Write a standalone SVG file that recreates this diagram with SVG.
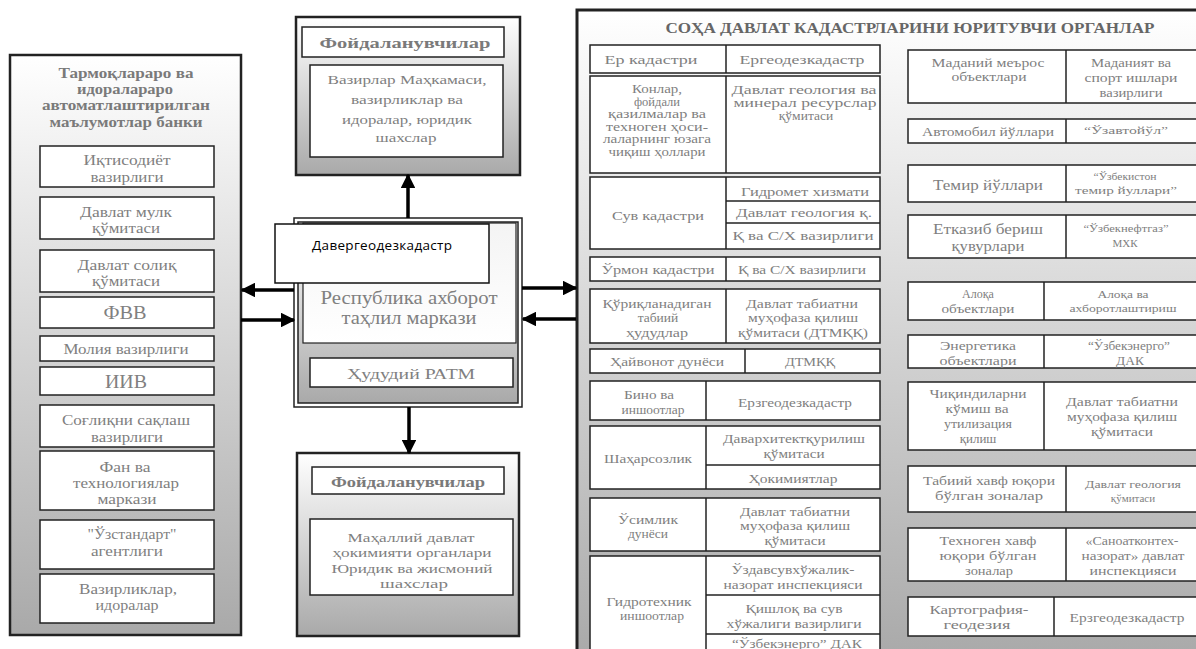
<svg xmlns="http://www.w3.org/2000/svg" width="1196" height="649" viewBox="0 0 1196 649">
<defs>
<linearGradient id="gPanel" x1="0" y1="0" x2="0" y2="1"><stop offset="0" stop-color="#ffffff"/><stop offset="1" stop-color="#a9a9a9"/></linearGradient>
<linearGradient id="gInner" x1="0" y1="0" x2="0" y2="1"><stop offset="0" stop-color="#f4f4f4"/><stop offset="1" stop-color="#ffffff"/></linearGradient>
<marker id="ah" viewBox="0 0 10 10" refX="9" refY="5" markerWidth="4.2" markerHeight="4.2" orient="auto" markerUnits="strokeWidth"><path d="M0,0 L10,5 L0,10 z" fill="#000"/></marker>
</defs>
<style>
text{font-family:"Liberation Serif","DejaVu Serif","Times New Roman",serif;fill:#808080;text-anchor:middle;dominant-baseline:central}
.b{font-weight:bold;fill:#7a7a7a}
.box{fill:#fff;stroke:#222;stroke-width:1.5}
.ln{stroke:#222;stroke-width:1.5}
.pan{stroke:#222;stroke-width:2.5}
.k{font-size:11.5px}.s12{font-size:13px}.s13{font-size:13.5px}.s14{font-size:15px}.s15{font-size:15.5px}.s17{font-size:18px}.s10{font-size:11px}.s11{font-size:12px}
.cn{stroke:#000;stroke-width:3.5;fill:none;marker-end:url(#ah)}
</style>
<rect width="1196" height="649" fill="#fff"/>

<g id="left-panel">
<rect class="pan" x="10" y="55" width="231" height="580" fill="url(#gPanel)"/>
<text class="b s14" x="126" y="73" textLength="135" lengthAdjust="spacingAndGlyphs">Тармоқлараро ва</text>
<text class="b s14" x="125" y="89" textLength="96" lengthAdjust="spacingAndGlyphs">идоралараро</text>
<text class="b s14" x="126" y="105" textLength="168" lengthAdjust="spacingAndGlyphs">автоматлаштирилган</text>
<text class="b s14" x="126" y="122" textLength="153" lengthAdjust="spacingAndGlyphs">маълумотлар банки</text>
</g>
<g id="n-iqtisod"><rect class="box" x="40" y="146" width="174" height="41"/><text class="s14" x="127" y="160" textLength="87" lengthAdjust="spacingAndGlyphs">Иқтисодиёт</text><text class="s14" x="127" y="177" textLength="73" lengthAdjust="spacingAndGlyphs">вазирлиги</text></g>
<g id="n-mulk"><rect class="box" x="40" y="197" width="174" height="42"/><text class="s14" x="126" y="212" textLength="92" lengthAdjust="spacingAndGlyphs">Давлат мулк</text><text class="s14" x="126" y="228" textLength="68" lengthAdjust="spacingAndGlyphs">қўмитаси</text></g>
<g id="n-soliq"><rect class="box" x="40" y="250" width="174" height="42"/><text class="s14" x="127" y="265" textLength="99" lengthAdjust="spacingAndGlyphs">Давлат солиқ</text><text class="s14" x="126" y="281" textLength="68" lengthAdjust="spacingAndGlyphs">қўмитаси</text></g>
<g id="n-fvv"><rect class="box" x="40" y="297" width="174" height="31"/><text class="s17" x="125" y="313" textLength="43" lengthAdjust="spacingAndGlyphs">ФВВ</text></g>
<g id="n-moliya"><rect class="box" x="40" y="336" width="174" height="25"/><text class="s14" x="126" y="349" textLength="125" lengthAdjust="spacingAndGlyphs">Молия вазирлиги</text></g>
<g id="n-iiv"><rect class="box" x="40" y="367" width="174" height="28"/><text class="s17" x="126" y="382" textLength="42" lengthAdjust="spacingAndGlyphs">ИИВ</text></g>
<g id="n-sogliq"><rect class="box" x="40" y="405" width="174" height="42"/><text class="s14" x="126" y="420" textLength="128" lengthAdjust="spacingAndGlyphs">Соғлиқни сақлаш</text><text class="s14" x="127" y="437" textLength="72" lengthAdjust="spacingAndGlyphs">вазирлиги</text></g>
<g id="n-fan"><rect class="box" x="40" y="451" width="174" height="59"/><text class="s14" x="125" y="467" textLength="51" lengthAdjust="spacingAndGlyphs">Фан ва</text><text class="s14" x="126" y="483" textLength="106" lengthAdjust="spacingAndGlyphs">технологиялар</text><text class="s14" x="127" y="499" textLength="59" lengthAdjust="spacingAndGlyphs">маркази</text></g>
<g id="n-uzst"><rect class="box" x="40" y="520" width="174" height="49"/><text class="s14" x="132" y="534" textLength="89" lengthAdjust="spacingAndGlyphs">"Ўзстандарт"</text><text class="s14" x="127" y="551" textLength="72" lengthAdjust="spacingAndGlyphs">агентлиги</text></g>
<g id="n-vazir"><rect class="box" x="40" y="574" width="174" height="49"/><text class="s14" x="128" y="589" textLength="98" lengthAdjust="spacingAndGlyphs">Вазирликлар,</text><text class="s14" x="127" y="605" textLength="63" lengthAdjust="spacingAndGlyphs">идоралар</text></g>

<g id="top-users">
<rect class="pan" x="296" y="17" width="224" height="158" fill="url(#gPanel)"/>
<rect class="box" x="302" y="27" width="202" height="30"/>
<text class="b s15" x="405" y="42" textLength="171" lengthAdjust="spacingAndGlyphs">Фойдаланувчилар</text>
<rect class="box" x="310" y="65" width="193" height="92"/>
<text class="s13" x="407" y="79" textLength="159" lengthAdjust="spacingAndGlyphs">Вазирлар Маҳкамаси,</text>
<text class="s13" x="407" y="99" textLength="112" lengthAdjust="spacingAndGlyphs">вазирликлар ва</text>
<text class="s13" x="407" y="119" textLength="130" lengthAdjust="spacingAndGlyphs">идоралар, юридик</text>
<text class="s13" x="406" y="137" textLength="61" lengthAdjust="spacingAndGlyphs">шахслар</text>
</g>

<g id="center">
<rect x="294" y="218" width="228" height="189" fill="#fff" stroke="#222" stroke-width="1.5"/>
<rect x="298" y="222" width="220" height="181" fill="url(#gPanel)" stroke="#222" stroke-width="1.5"/>
<rect x="303" y="223" width="213" height="120" fill="url(#gInner)" stroke="#222" stroke-width="1.2"/>
<text class="s17" x="409" y="298" textLength="177" lengthAdjust="spacingAndGlyphs">Республика ахборот</text>
<text class="s17" x="409" y="318" textLength="135" lengthAdjust="spacingAndGlyphs">таҳлил маркази</text>
<rect class="box" x="310" y="358" width="203" height="29"/>
<text class="s15" x="411" y="373" textLength="128" lengthAdjust="spacingAndGlyphs">Ҳудудий РАТМ</text>
</g>
<g id="davergeo">
<rect x="275" y="224" width="214" height="59" fill="#fff" stroke="#111" stroke-width="1.5"/>
<text x="382" y="245" textLength="140" lengthAdjust="spacing" style="font-family:'Open Sans','Liberation Sans',sans-serif;font-size:13.5px;fill:#000">Давергеодезкадастр</text>
</g>

<g id="bottom-users">
<rect class="pan" x="297" y="453" width="222" height="183" fill="url(#gPanel)"/>
<rect class="box" x="312" y="467" width="192" height="27"/>
<text class="b s15" x="408" y="481" textLength="154" lengthAdjust="spacingAndGlyphs">Фойдаланувчилар</text>
<rect class="box" x="310" y="519" width="203" height="76"/>
<text class="s13" x="411" y="537" textLength="127" lengthAdjust="spacingAndGlyphs">Маҳаллий давлат</text>
<text class="s13" x="412" y="552" textLength="159" lengthAdjust="spacingAndGlyphs">ҳокимияти органлари</text>
<text class="s13" x="412" y="568" textLength="161" lengthAdjust="spacingAndGlyphs">Юридик ва жисмоний</text>
<text class="s13" x="414" y="583" textLength="68" lengthAdjust="spacingAndGlyphs">шахслар</text>
</g>

<g id="right-panel">
<rect x="577" y="10" width="625" height="650" fill="url(#gPanel)" stroke="#222" stroke-width="3"/>
<text class="b s15" x="910" y="27" textLength="489" lengthAdjust="spacingAndGlyphs" style="fill:#666">СОҲА ДАВЛАТ КАДАСТРЛАРИНИ ЮРИТУВЧИ ОРГАНЛАР</text>
</g>

<g id="r-er"><rect class="box" x="590" y="45" width="290" height="28"/><line class="ln" x1="726" y1="45" x2="726" y2="73"/><text class="s13" x="651" y="59" textLength="93" lengthAdjust="spacingAndGlyphs">Ер кадастри</text><text class="s13" x="802" y="59" textLength="125" lengthAdjust="spacingAndGlyphs">Ергеодезкадастр</text></g>
<g id="r-konlar"><rect class="box" x="590" y="76" width="290" height="97"/><line class="ln" x1="726" y1="76" x2="726" y2="173"/>
<text class="k" x="657" y="89" textLength="50" lengthAdjust="spacingAndGlyphs">Конлар,</text><text class="k" x="657" y="101.5" textLength="46" lengthAdjust="spacingAndGlyphs">фойдали</text><text class="k" x="657" y="114" textLength="98" lengthAdjust="spacingAndGlyphs">қазилмалар ва</text><text class="k" x="657" y="126.5" textLength="102" lengthAdjust="spacingAndGlyphs">техноген ҳоси-</text><text class="k" x="657" y="139" textLength="108" lengthAdjust="spacingAndGlyphs">лаларнинг юзага</text><text class="k" x="657" y="151.5" textLength="97" lengthAdjust="spacingAndGlyphs">чиқиш ҳоллари</text>
<text class="s13" x="804" y="89" textLength="145" lengthAdjust="spacingAndGlyphs">Давлат геология ва</text><text class="s13" x="805" y="102" textLength="143" lengthAdjust="spacingAndGlyphs">минерал ресурслар</text><text class="s13" x="806" y="115">қўмитаси</text></g>
<g id="r-suv"><rect class="box" x="590" y="177" width="290" height="72"/><line class="ln" x1="726" y1="177" x2="726" y2="249"/><line class="ln" x1="726" y1="201" x2="880" y2="201"/><line class="ln" x1="726" y1="223" x2="880" y2="223"/>
<text class="s13" x="658" y="215" textLength="92" lengthAdjust="spacingAndGlyphs">Сув кадастри</text><text class="s12" x="805" y="191" textLength="128" lengthAdjust="spacingAndGlyphs">Гидромет хизмати</text><text class="s12" x="804" y="212" textLength="136" lengthAdjust="spacingAndGlyphs">Давлат геология қ.</text><text class="s12" x="803" y="235" textLength="141" lengthAdjust="spacingAndGlyphs">Қ ва С/Х вазирлиги</text></g>
<g id="r-urmon"><rect class="box" x="590" y="257" width="290" height="24"/><line class="ln" x1="726" y1="257" x2="726" y2="281"/><text class="s13" x="658" y="269" textLength="113" lengthAdjust="spacingAndGlyphs">Ўрмон  кадастри</text><text class="s13" x="802" y="269" textLength="128" lengthAdjust="spacingAndGlyphs">Қ ва С/Х вазирлиги</text></g>
<g id="r-quriq"><rect class="box" x="590" y="289" width="290" height="54"/><line class="ln" x1="726" y1="289" x2="726" y2="343"/>
<text class="s13" x="657" y="303" textLength="109" lengthAdjust="spacingAndGlyphs">Қўриқланадиган</text><text class="s13" x="658" y="317">табиий</text><text class="s13" x="657" y="332" textLength="62" lengthAdjust="spacingAndGlyphs">ҳудудлар</text>
<text class="s13" x="802" y="303" textLength="112" lengthAdjust="spacingAndGlyphs">Давлат табиатни</text><text class="s13" x="803" y="317" textLength="110" lengthAdjust="spacingAndGlyphs">муҳофаза қилиш</text><text class="s13" x="803" y="332" textLength="130" lengthAdjust="spacingAndGlyphs">қўмитаси (ДТМҚҚ)</text></g>
<g id="r-hayvon"><rect class="box" x="590" y="349" width="290" height="24"/><line class="ln" x1="745" y1="349" x2="745" y2="373"/><text class="s13" x="667" y="361" textLength="114" lengthAdjust="spacingAndGlyphs">Ҳайвонот дунёси</text><text class="s13" x="810" y="361" textLength="50" lengthAdjust="spacingAndGlyphs">ДТМҚҚ</text></g>
<g id="r-bino"><rect class="box" x="590" y="381" width="290" height="39"/><line class="ln" x1="706" y1="381" x2="706" y2="420"/><text class="s13" x="649" y="394" textLength="50" lengthAdjust="spacingAndGlyphs">Бино ва</text><text class="s13" x="653" y="409" textLength="63" lengthAdjust="spacingAndGlyphs">иншоотлар</text><text class="s13" x="795" y="402" textLength="114" lengthAdjust="spacingAndGlyphs">Ерзгеодезкадастр</text></g>
<g id="r-shahar"><rect class="box" x="590" y="426" width="290" height="63"/><line class="ln" x1="706" y1="426" x2="706" y2="489"/><line class="ln" x1="706" y1="465" x2="880" y2="465"/>
<text class="s13" x="648" y="458" textLength="88" lengthAdjust="spacingAndGlyphs">Шаҳарсозлик</text><text class="s13" x="794" y="438" textLength="142" lengthAdjust="spacingAndGlyphs">Даварxитектқурилиш</text><text class="s13" x="794" y="453" textLength="61" lengthAdjust="spacingAndGlyphs">қўмитаси</text><text class="s13" x="793" y="478" textLength="89" lengthAdjust="spacingAndGlyphs">Ҳокимиятлар</text></g>
<g id="r-usimlik"><rect class="box" x="590" y="498" width="290" height="53"/><line class="ln" x1="706" y1="498" x2="706" y2="551"/>
<text class="s13" x="648" y="519" textLength="60" lengthAdjust="spacingAndGlyphs">Ўсимлик</text><text class="s13" x="648" y="533">дунёси</text><text class="s13" x="795" y="511" textLength="110" lengthAdjust="spacingAndGlyphs">Давлат табиатни</text><text class="s13" x="795" y="525" textLength="110" lengthAdjust="spacingAndGlyphs">муҳофаза қилиш</text><text class="s13" x="795" y="540" textLength="61" lengthAdjust="spacingAndGlyphs">қўмитаси</text></g>
<g id="r-gidro"><rect class="box" x="590" y="556" width="290" height="110"/><line class="ln" x1="706" y1="556" x2="706" y2="666"/><line class="ln" x1="706" y1="595" x2="880" y2="595"/><line class="ln" x1="706" y1="634" x2="880" y2="634"/>
<text class="s13" x="649" y="601" textLength="85" lengthAdjust="spacingAndGlyphs">Гидротехник</text><text class="s13" x="652" y="615" textLength="64" lengthAdjust="spacingAndGlyphs">иншоотлар</text>
<text class="s13" x="793" y="569" textLength="123" lengthAdjust="spacingAndGlyphs">Ўздавсувхўжалик-</text><text class="s13" x="793" y="584" textLength="139" lengthAdjust="spacingAndGlyphs">назорат инспекцияси</text><text class="s13" x="794" y="608" textLength="97" lengthAdjust="spacingAndGlyphs">Қишлоқ ва сув</text><text class="s13" x="794" y="623" textLength="135" lengthAdjust="spacingAndGlyphs">хўжалиги вазирлиги</text><text class="s13" x="797" y="643" textLength="130" lengthAdjust="spacingAndGlyphs">“Ўзбекэнерго” ДАК</text></g>

<g id="r-madaniy"><rect class="box" x="908" y="50" width="295" height="53"/><line class="ln" x1="1066" y1="50" x2="1066" y2="103"/>
<text class="s13" x="988" y="62" textLength="113" lengthAdjust="spacingAndGlyphs">Маданий меърос</text><text class="s13" x="989" y="76" textLength="75" lengthAdjust="spacingAndGlyphs">объектлари</text><text class="s13" x="1131" y="62" textLength="80" lengthAdjust="spacingAndGlyphs">Маданият ва</text><text class="s13" x="1131" y="77" textLength="93" lengthAdjust="spacingAndGlyphs">спорт ишлари</text><text class="s13" x="1131" y="92" textLength="63" lengthAdjust="spacingAndGlyphs">вазирлиги</text></g>
<g id="r-avto"><rect class="box" x="908" y="119" width="295" height="24"/><line class="ln" x1="1066" y1="119" x2="1066" y2="143"/><text class="s13" x="988" y="131" textLength="132" lengthAdjust="spacingAndGlyphs">Автомобил йўллари</text><text class="s10" x="1126" y="130" textLength="84" lengthAdjust="spacingAndGlyphs">“Ўзавтойўл”</text></g>
<g id="r-temir"><rect class="box" x="908" y="165" width="295" height="37"/><line class="ln" x1="1066" y1="165" x2="1066" y2="202"/><text class="s15" x="988" y="184" textLength="110" lengthAdjust="spacingAndGlyphs">Темир йўллари</text><text class="s10" x="1125" y="176" textLength="63" lengthAdjust="spacingAndGlyphs">“Ўзбекистон</text><text class="s10" x="1126" y="190" textLength="102" lengthAdjust="spacingAndGlyphs">темир йуллари”</text></g>
<g id="r-etkaz"><rect class="box" x="908" y="215" width="295" height="43"/><line class="ln" x1="1066" y1="215" x2="1066" y2="258"/><text class="s14" x="988" y="229" textLength="110" lengthAdjust="spacingAndGlyphs">Етказиб бериш</text><text class="s14" x="988" y="246" textLength="73" lengthAdjust="spacingAndGlyphs">қувурлари</text><text class="s10" x="1126" y="228" textLength="85" lengthAdjust="spacingAndGlyphs">“Ўзбекнефтгаз”</text><text class="s10" x="1125" y="243">МХК</text></g>
<g id="r-aloqa"><rect class="box" x="908" y="282" width="295" height="38"/><line class="ln" x1="1044" y1="282" x2="1044" y2="320"/><text class="s11" x="978" y="294">Алоқа</text><text class="s11" x="978" y="309" textLength="73" lengthAdjust="spacingAndGlyphs">объектлари</text><text class="s10" x="1123" y="294" textLength="51" lengthAdjust="spacingAndGlyphs">Алоқа ва</text><text class="s10" x="1123" y="308" textLength="107" lengthAdjust="spacingAndGlyphs">ахборотлаштириш</text></g>
<g id="r-energ"><rect class="box" x="908" y="335" width="295" height="33"/><line class="ln" x1="1044" y1="335" x2="1044" y2="368"/><text class="s12" x="978" y="345" textLength="76" lengthAdjust="spacingAndGlyphs">Энергетика</text><text class="s12" x="978" y="360" textLength="77" lengthAdjust="spacingAndGlyphs">объектлари</text><text class="s13" x="1129" y="345" textLength="82" lengthAdjust="spacingAndGlyphs">“Ўзбекэнерго”</text><text class="s13" x="1130" y="360">ДАК</text></g>
<g id="r-chiq"><rect class="box" x="908" y="382" width="295" height="68"/><line class="ln" x1="1044" y1="382" x2="1044" y2="450"/><text class="s12" x="978" y="393" textLength="97" lengthAdjust="spacingAndGlyphs">Чиқиндиларни</text><text class="s12" x="977" y="408" textLength="63" lengthAdjust="spacingAndGlyphs">кўмиш ва</text><text class="s12" x="978" y="423" textLength="68" lengthAdjust="spacingAndGlyphs">утилизация</text><text class="s12" x="978" y="438">қилиш</text>
<text class="s13" x="1122" y="401" textLength="112" lengthAdjust="spacingAndGlyphs">Давлат табиатни</text><text class="s13" x="1122" y="416" textLength="110" lengthAdjust="spacingAndGlyphs">муҳофаза қилиш</text><text class="s13" x="1122" y="431" textLength="62" lengthAdjust="spacingAndGlyphs">қўмитаси</text></g>
<g id="r-tabiiy"><rect class="box" x="908" y="466" width="295" height="46"/><line class="ln" x1="1066" y1="466" x2="1066" y2="512"/><text class="s13" x="989" y="480" textLength="132" lengthAdjust="spacingAndGlyphs">Табиий хавф юқори</text><text class="s13" x="989" y="495" textLength="108" lengthAdjust="spacingAndGlyphs">бўлган зоналар</text><text class="s10" x="1133" y="484" textLength="96" lengthAdjust="spacingAndGlyphs">Давлат геология</text><text class="s10" x="1133" y="498">қўмитаси</text></g>
<g id="r-texno"><rect class="box" x="908" y="528" width="295" height="53"/><line class="ln" x1="1066" y1="528" x2="1066" y2="581"/><text class="s13" x="988" y="540" textLength="97" lengthAdjust="spacingAndGlyphs">Техноген хавф</text><text class="s13" x="988" y="555" textLength="97" lengthAdjust="spacingAndGlyphs">юқори бўлган</text><text class="s13" x="989" y="570" textLength="48" lengthAdjust="spacingAndGlyphs">зоналар</text><text class="s13" x="1132" y="540" textLength="93" lengthAdjust="spacingAndGlyphs">«Саноатконтех-</text><text class="s13" x="1133" y="555" textLength="103" lengthAdjust="spacingAndGlyphs">назорат» давлат</text><text class="s13" x="1133" y="570" textLength="87" lengthAdjust="spacingAndGlyphs">инспекцияси</text></g>
<g id="r-karto"><rect class="box" x="908" y="597" width="295" height="39"/><line class="ln" x1="1054" y1="597" x2="1054" y2="636"/><text class="s13" x="979" y="609" textLength="99" lengthAdjust="spacingAndGlyphs">Картография-</text><text class="s13" x="977" y="624" textLength="67" lengthAdjust="spacingAndGlyphs">геодезия</text><text class="s13" x="1127" y="617" textLength="115" lengthAdjust="spacingAndGlyphs">Ерзгеодезкадастр</text></g>

<g id="connectors">
<line class="cn" x1="408" y1="218" x2="408" y2="175"/>
<line class="cn" x1="409" y1="407" x2="409" y2="453"/>
<line class="cn" x1="294" y1="290" x2="242" y2="290"/>
<line class="cn" x1="241" y1="320" x2="294" y2="320"/>
<line class="cn" x1="522" y1="288" x2="576" y2="288"/>
<line class="cn" x1="576" y1="319" x2="523" y2="319"/>
</g>
</svg>
